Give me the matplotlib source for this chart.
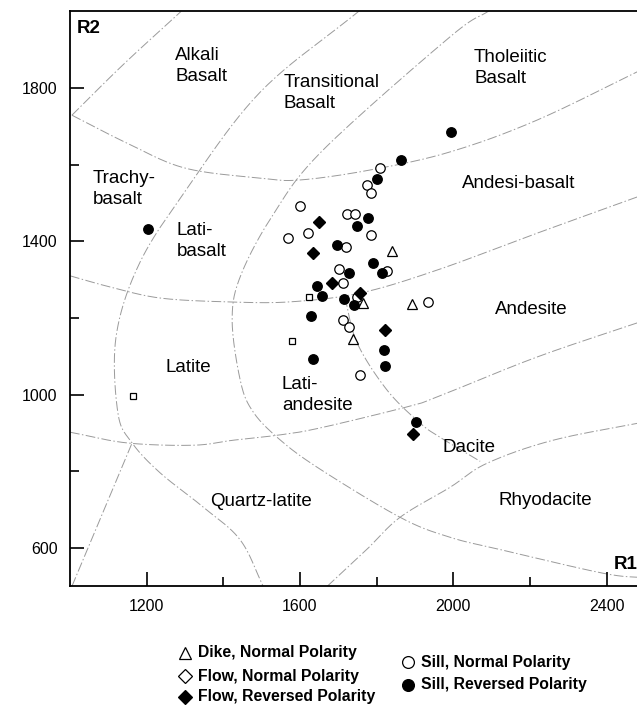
import numpy as np
import matplotlib
matplotlib.use("Agg")
import matplotlib.pyplot as plt
from matplotlib.lines import Line2D

plt.rcParams['font.family'] = ['Liberation Sans', 'DejaVu Sans']

# ---- samples (R1, R2) ----
dike_normal_r1 = [1839, 1765, 1891, 1738]
dike_normal_r2 = [1375, 1238, 1236, 1144]

flow_normal_r1 = [1624, 1580, 1164]
flow_normal_r2 = [1255, 1140, 996]

flow_reversed_r1 = [1649, 1635, 1683, 1757, 1821, 1896]
flow_reversed_r2 = [1451, 1369, 1290, 1264, 1168, 897]

sill_normal_r1 = [1809, 1776, 1785, 1600, 1723, 1744, 1622, 1570, 1785,
                  1719, 1703, 1826, 1711, 1748, 1713, 1729, 1757, 1933]
sill_normal_r2 = [1590, 1547, 1525, 1493, 1471, 1471, 1422, 1408, 1416,
                  1384, 1328, 1323, 1290, 1255, 1195, 1176, 1051, 1242]

sill_reversed_r1 = [1994, 1863, 1802, 1778, 1749, 1696, 1790, 1814, 1727,
                    1645, 1657, 1715, 1741, 1628, 1635, 1819, 1821, 1903, 1203]
sill_reversed_r2 = [1685, 1612, 1562, 1461, 1439, 1391, 1344, 1316, 1316,
                    1284, 1258, 1249, 1234, 1206, 1092, 1116, 1075, 929, 1431]

# ---- field boundaries of the R1-R2 diagram (R1, R2 nodes) ----
outer_arc = [(1005, 1729), (1140, 1862), (1290, 2000)]
basalt_base = [(1005, 1729), (1149, 1656), (1300, 1591), (1496, 1565), (1600, 1560),
               (1783, 1586), (1991, 1633), (2218, 1716), (2500, 1852)]
arc_alkali = [(1757, 2003), (1496, 1789), (1300, 1530), (1180, 1340),
              (1120, 1150), (1125, 952), (1162, 874), (1235, 796), (1347, 707),
              (1444, 621), (1504, 500)]
arc_tholeiitic = [(2096, 2003), (1991, 1933), (1660, 1638), (1530, 1470),
                  (1445, 1310), (1423, 1195), (1444, 1038), (1475, 959), (1540, 889),
                  (1644, 811), (1861, 680), (1991, 628), (2130, 594), (2391, 534),
                  (2500, 522)]
arc_andesite = [(1717, 1254), (1749, 1135), (1827, 1012), (1913, 926), (1965, 889),
                (2070, 826)]
basalt_floor = [(1000, 1310), (1104, 1281), (1235, 1252), (1410, 1242), (1574, 1242),
                (1757, 1265), (1958, 1325), (2218, 1421), (2500, 1523)]
andesite_floor = [(1000, 902), (1149, 874), (1321, 868), (1425, 881), (1548, 895),
                  (1652, 913), (1879, 968), (1958, 994), (2218, 1098), (2500, 1194)]
dacite_floor = [(1671, 500), (1772, 594), (1861, 680), (1991, 758), (2088, 821),
                (2260, 881), (2500, 929)]
latite_wedge = [(1005, 500), (1162, 874)]

boundaries = [outer_arc, basalt_base, arc_alkali, arc_tholeiitic, arc_andesite,
              basalt_floor, andesite_floor, dacite_floor, latite_wedge]


def catmull_rom(nodes, n=24):
    p = np.asarray(nodes, float)
    if len(p) < 3:
        return p
    p = np.vstack([2 * p[0] - p[1], p, 2 * p[-1] - p[-2]])
    t = np.linspace(0, 1, n, endpoint=False)[:, None]
    segs = []
    for i in range(1, len(p) - 2):
        p0, p1, p2, p3 = p[i - 1], p[i], p[i + 1], p[i + 2]
        segs.append(0.5 * (2 * p1 + (-p0 + p2) * t
                           + (2 * p0 - 5 * p1 + 4 * p2 - p3) * t ** 2
                           + (-p0 + 3 * p1 - 3 * p2 + p3) * t ** 3))
    segs.append(p[-2][None])
    return np.vstack(segs)


W, H = 637, 706
fig = plt.figure(figsize=(W / 100, H / 100), dpi=100)
ax = fig.add_axes([70 / W, 1 - 586.3 / H, 575 / W, 575 / H])

for b in boundaries:
    c = catmull_rom(b)
    ax.plot(c[:, 0], c[:, 1], color='#9a9a9a', lw=0.7,
            dashes=(10, 2.5, 1.5, 2.5), zorder=1)

ms = 6.8
ax.plot(sill_normal_r1, sill_normal_r2, 'o', ms=ms, mfc='white', mec='black', mew=0.9, ls='none', zorder=3)
ax.plot(sill_reversed_r1, sill_reversed_r2, 'o', ms=ms, mfc='black', mec='black', ls='none', zorder=4)
ax.plot(flow_normal_r1, flow_normal_r2, 's', ms=4.8, mfc='white', mec='black', mew=0.9, ls='none', zorder=3)
ax.plot(flow_reversed_r1, flow_reversed_r2, 'D', ms=6.0, mfc='black', mec='black', ls='none', zorder=4)
ax.plot(dike_normal_r1, dike_normal_r2, '^', ms=7.0, mfc='white', mec='black', mew=0.9, ls='none', zorder=3)

ax.set_xlim(1000, 2500)
ax.set_ylim(500, 2000)
ax.set_xticks([1200, 1600, 2000, 2400])
ax.set_xticks([1400, 1800, 2200], minor=True)
ax.set_yticks([600, 1000, 1400, 1800])
ax.set_yticks([800, 1200, 1600], minor=True)
ax.tick_params(which='both', direction='in', width=1.2, labelsize=11.5, pad=9)
ax.tick_params(which='major', length=10)
ax.tick_params(which='minor', length=6.5)
for s in ax.spines.values():
    s.set_linewidth(1.3)

field_font = dict(fontsize=13.5, ha='left', va='center', linespacing=1.3, zorder=5)
fields = [
    (1274, 1857, "Alkali\nBasalt"),
    (1556, 1788, "Transitional\nBasalt"),
    (2054, 1852, "Tholeiitic\nBasalt"),
    (1060, 1536, "Trachy-\nbasalt"),
    (1279, 1401, "Lati-\nbasalt"),
    (2023, 1552, "Andesi-basalt"),
    (1248, 1072, "Latite"),
    (1553, 1000, "Lati-\nandesite"),
    (2109, 1221, "Andesite"),
    (1971, 863, "Dacite"),
    (1365, 720, "Quartz-latite"),
    (2119, 724, "Rhyodacite"),
]
for x, y, s in fields:
    ax.text(x, y, s, **field_font)

ax.text(1018, 1956, "R2", fontsize=13.5, fontweight='bold', ha='left', va='center')
ax.text(2419, 558, "R1", fontsize=13.5, fontweight='bold', ha='left', va='center', clip_on=False)

# legend below the plot
legend_rows = [
    (185, 653, '^', 'white', "Dike, Normal Polarity"),
    (185, 676, 'D', 'white', "Flow, Normal Polarity"),
    (185, 697, 'D', 'black', "Flow, Reversed Polarity"),
    (408, 662, 'o', 'white', "Sill, Normal Polarity"),
    (408, 685, 'o', 'black', "Sill, Reversed Polarity"),
]
for px, py, mk, fc, label in legend_rows:
    size = 7.5 if mk == 'D' else 8.5
    fig.add_artist(Line2D([px / W], [1 - py / H], marker=mk, ms=size, mfc=fc,
                          mec='black', mew=0.9, ls='none', transform=fig.transFigure))
    fig.text((px + 13) / W, 1 - py / H, label, fontsize=11.3, fontweight='bold',
             ha='left', va='center')

fig.savefig('out.png', dpi=100)
